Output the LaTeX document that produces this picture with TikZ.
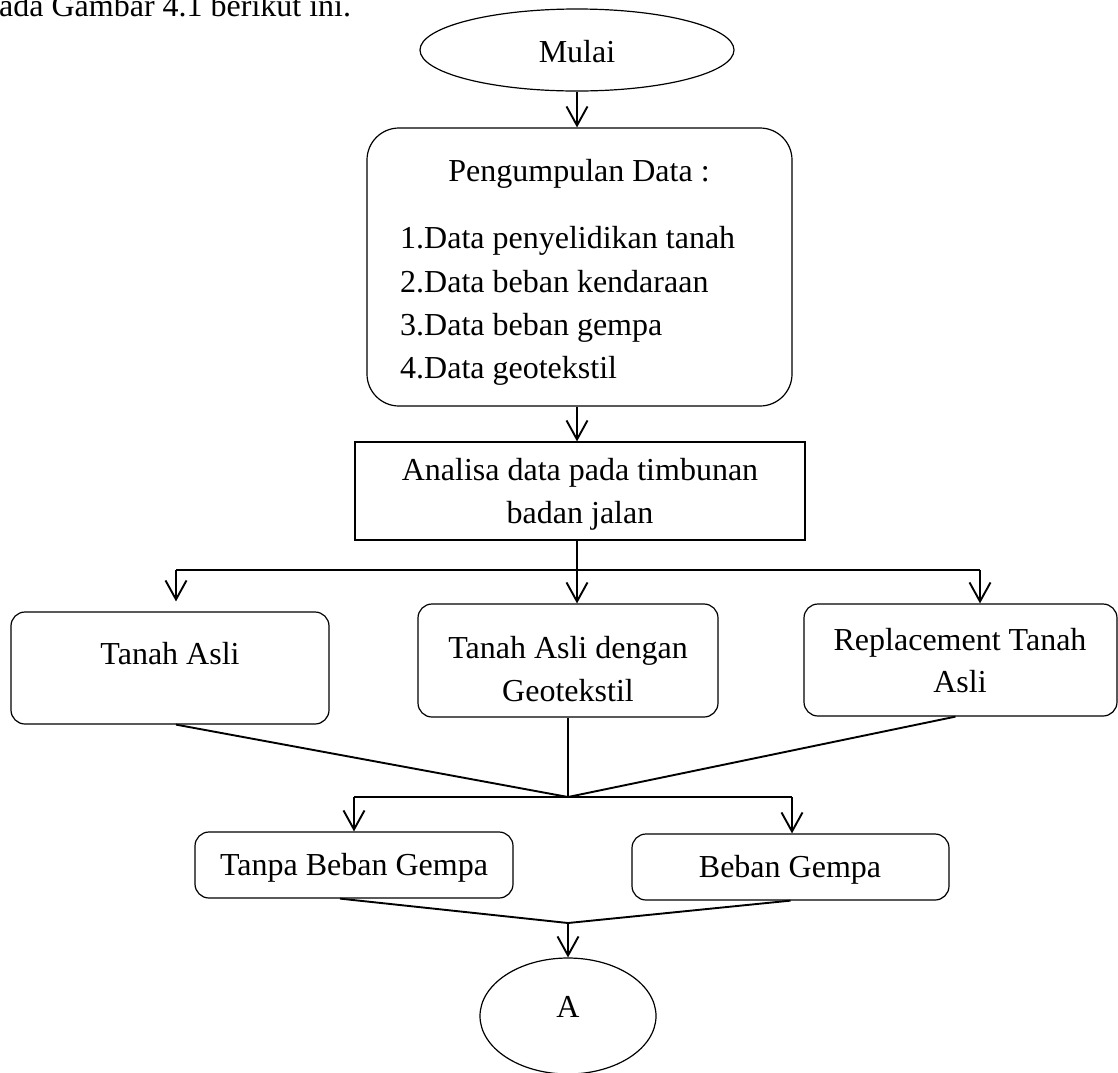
\documentclass[tikz,border=0pt]{standalone}
\usepackage{fontspec}
\setmainfont{Liberation Serif}
\usetikzlibrary{arrows.meta,shapes.geometric}
\begin{document}
\begin{tikzpicture}[x=1pt,y=-1pt,
  font=\fontsize{32}{38}\selectfont,
  box/.style={draw,line width=1.2pt,inner sep=0pt,rounded corners=14pt},
  bigbox/.style={draw,line width=1.2pt,inner sep=0pt,rounded corners=32pt},
  plainbox/.style={draw,line width=1.2pt,inner sep=0pt},
  oval/.style={draw,ellipse,line width=1.2pt,inner sep=0pt},
  lbl/.style={anchor=base,inner sep=0pt},
  lblw/.style={anchor=base west,inner sep=0pt},
  link/.style={line width=1.9pt},
  arr/.style={line width=1.9pt,-{Straight Barb[length=19pt,width=21pt,line width=1.9pt]}}]
\useasboundingbox (0,0) rectangle (1118,1072);

% running text above the chart
\node[lblw] (intro) at (-1,16) {ada Gambar 4.1 berikut ini.};

% shapes
\node[oval,minimum width=314pt,minimum height=82pt] (mulai) at (577,50) {};
\node[bigbox,minimum width=425pt,minimum height=278pt] (peng) at (579.5,267) {};
\node[plainbox,minimum width=450pt,minimum height=98pt] (anal) at (580,491) {};
\node[box,minimum width=318pt,minimum height=112pt] (ta) at (170,668) {};
\node[box,minimum width=300pt,minimum height=113pt] (tag) at (568,660.5) {};
\node[box,minimum width=313pt,minimum height=112pt] (rep) at (960.5,660) {};
\node[box,minimum width=318pt,minimum height=66pt] (tbg) at (354,865) {};
\node[box,minimum width=317pt,minimum height=66pt] (bg) at (790.5,867) {};
\node[oval,minimum width=176pt,minimum height=116pt] (A) at (568,1016) {};

% texts
\node[lbl] (tmulai) at (577,62) {Mulai};
\node[lbl] (tpeng) at (579,181) {Pengumpulan Data :};
\node[lblw] (tl1) at (400,248) {1.Data penyelidikan tanah};
\node[lblw] (tl2) at (400,292) {2.Data beban kendaraan};
\node[lblw] (tl3) at (400,335) {3.Data beban gempa};
\node[lblw] (tl4) at (400,378) {4.Data geotekstil};
\node[lbl] (tan1) at (580,480) {Analisa data pada timbunan};
\node[lbl] (tan2) at (580,523) {badan jalan};
\node[lbl] (tta) at (170,664) {Tanah Asli};
\node[lbl] (ttag1) at (568,658) {Tanah Asli dengan};
\node[lbl] (ttag2) at (568,701) {Geotekstil};
\node[lbl] (trep1) at (960,650) {Replacement Tanah};
\node[lbl] (trep2) at (960,692) {Asli};
\node[lbl] (ttbg) at (354,875) {Tanpa Beban Gempa};
\node[lbl] (tbgt) at (790,877) {Beban Gempa};
\node[lbl] (tA) at (568,1017) {A};

% junction points
\coordinate (f1l) at (176,570);
\coordinate (f1r) at (980,570);
\coordinate (j1) at (568,797);
\coordinate (f2l) at (354,797);
\coordinate (f2r) at (792,797);
\coordinate (j2) at (568,923);

% connectors
\draw[arr] (mulai.south) -- (mulai.south |- peng.north);
\draw[arr] (peng.south -| mulai.south) -- (anal.north -| mulai.south);
\draw[arr] (anal.south -| mulai.south) -- (tag.north -| mulai.south);
\draw[link] (f1l) -- (f1r);
\draw[arr,shorten >=10pt] (f1l) -- (f1l |- ta.north);
\draw[arr] (f1r) -- (f1r |- rep.north);

\draw[link] (ta.south -| f1l) -- (j1);
\draw[line width=1.4pt] (tag.south) -- (j1);
\draw[link] ([xshift=-5pt]rep.south) -- (j1);

\draw[link] (f2l) -- (f2r);
\draw[arr] (f2l) -- (f2l |- tbg.north);
\draw[arr] (f2r) -- (f2r |- bg.north);

\draw[link] ([xshift=-14pt]tbg.south) -- (j2);
\draw[link] (bg.south) -- (j2);
\draw[arr] (j2) -- (A.north);
\end{tikzpicture}
\end{document}
